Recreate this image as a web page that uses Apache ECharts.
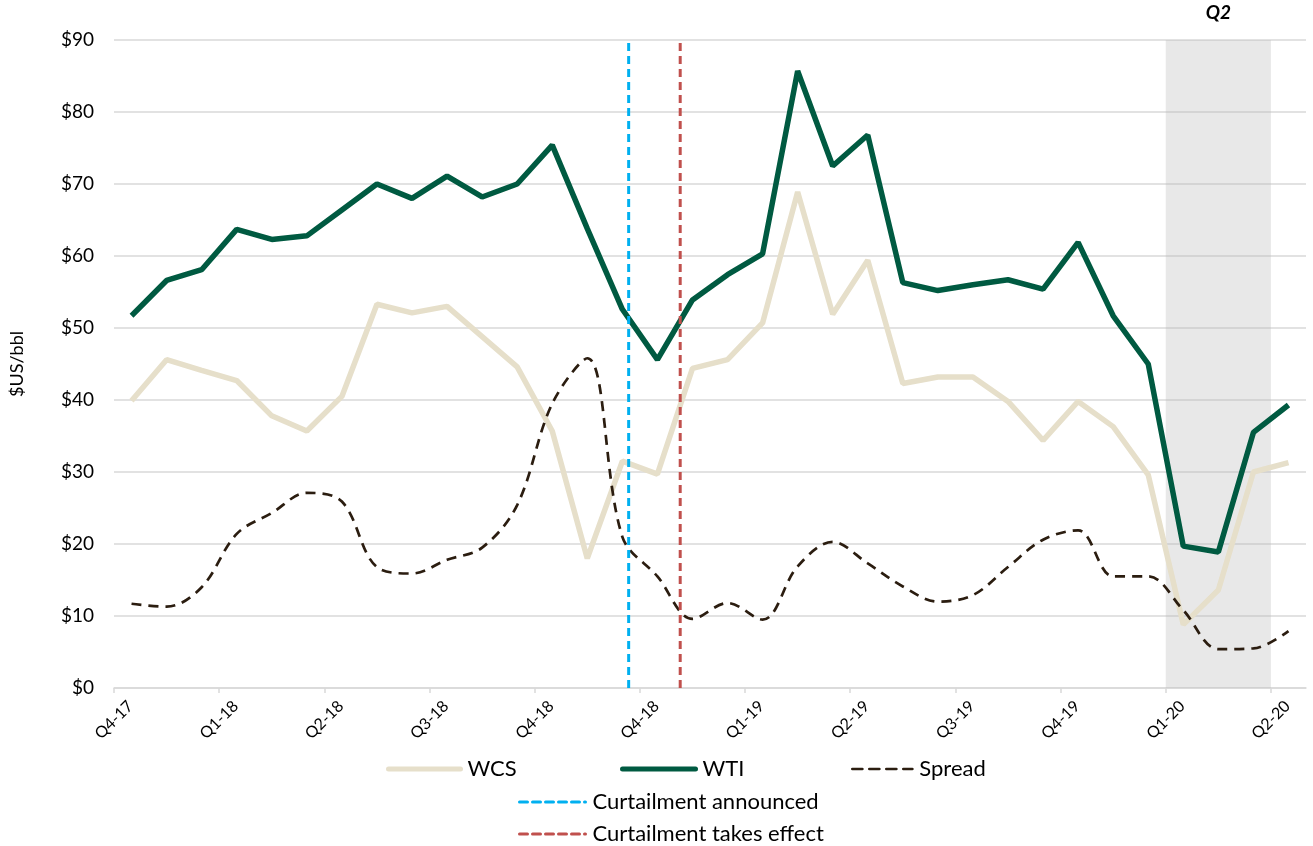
<!DOCTYPE html>
<html>
<head>
<meta charset="utf-8">
<script src="https://cdn.jsdelivr.net/npm/echarts@6/dist/echarts.min.js"></script>
<style>
html,body{margin:0;padding:0;background:#fff;}
#chart{width:1313px;height:846px;}
</style>
</head>
<body>
<div id="chart"></div>
<script>
// Tick labels every 3 periods
var tickLabels = ['Q4-17','Q1-18','Q2-18','Q3-18','Q4-18','Q4-18','Q1-19','Q2-19','Q3-19','Q4-19','Q1-20','Q2-20'];
var periodsPerLabel = 3;

var wcs = [39.9,45.6,44.1,42.7,37.8,35.7,40.5,53.3,52.1,53.0,48.8,44.6,35.7,18.0,31.5,29.7,44.4,45.6,50.7,68.9,51.9,59.4,42.3,43.2,43.2,39.8,34.4,39.8,36.3,29.6,8.8,13.6,30.0,31.3];
var wti = [51.7,56.6,58.1,63.7,62.3,62.8,66.4,70.0,68.0,71.1,68.2,70.0,75.4,63.8,52.6,45.6,53.9,57.4,60.3,85.7,72.5,76.8,56.3,55.2,56.0,56.7,55.4,61.9,51.7,45.0,19.7,18.9,35.5,39.3];
var spread = [11.7,11.3,14.0,21.4,24.3,27.1,25.9,16.8,15.9,17.8,19.5,25.4,39.5,45.8,21.0,15.5,9.6,11.8,9.5,16.9,20.3,17.3,14.1,12.0,12.9,16.8,20.6,21.9,15.5,15.5,10.8,5.4,5.5,7.9];

// event positions (in period units on x axis)
var curtailAnnounced = 14.68;
var curtailEffect = 16.15;
// shaded Q2 band (period units)
var q2Band = [30, 33];
var q2Label = 'Q2';

var yMin = 0, yMax = 90, yStep = 10;

function toXY(arr){ return arr.map(function(v,i){ return [i+0.5, v]; }); }
var nPeriods = wcs.length;
var tickValues = tickLabels.map(function(_,i){ return i*periodsPerLabel; });

var FONT = 'Lato';
var chart = echarts.init(document.getElementById('chart'));
var legendText = {fontFamily: FONT, fontSize: 22, color: '#000', padding: [0,0,0,2]};
function lg(name, left, top, w, lw){
  return {data: [name], left: left, top: top, itemWidth: w, itemHeight: 12, itemGap: 0, padding: 0,
    textStyle: legendText, itemStyle: {opacity: 0}, lineStyle: {width: lw, cap: 'round'}};
}
chart.setOption({
  animation: false,
  textStyle: {fontFamily: FONT},
  grid: {left: 113, right: 7, top: 40, bottom: 158},
  xAxis: {
    type: 'value', min: 0, max: nPeriods,
    axisLine: {show: true, lineStyle: {color: '#d9d9d9', width: 1.5}},
    axisTick: {show: true, length: 5, lineStyle: {color: '#d9d9d9', width: 1.5}, customValues: tickValues},
    splitLine: {show: false},
    axisLabel: {
      customValues: tickValues,
      rotate: 45, align: 'center', verticalAlign: 'middle',
      fontSize: 16, color: '#000', fontFamily: FONT, margin: 32,
      formatter: function(v){ var k = Math.round(v/periodsPerLabel); return tickLabels[k] || ''; }
    }
  },
  yAxis: {
    type: 'value', min: yMin, max: yMax, interval: yStep,
    name: '$US/bbl', nameLocation: 'middle', nameGap: 88, nameRotate: 90,
    nameTextStyle: {fontFamily: FONT, fontSize: 18, color: '#000'},
    axisLine: {show: false}, axisTick: {show: false},
    splitLine: {lineStyle: {color: '#d9d9d9', width: 1.5}},
    axisLabel: {formatter: function(v){ return '$' + v; }, fontSize: 19, color: '#000', fontFamily: FONT, margin: 20}
  },
  legend: [
    lg('WCS', 386, 758, 72, 5),
    lg('WTI', 620, 758, 73, 5),
    lg('Spread', 851, 758, 60, 2.7),
    lg('Curtailment announced', 518, 791, 66, 3),
    lg('Curtailment takes effect', 518, 823, 66, 3)
  ],
  series: [
    {name: 'WCS', type: 'line', data: toXY(wcs), symbol: 'none', z: 2,
     lineStyle: {color: '#e6dfca', width: 5.5}, itemStyle: {color: '#e6dfca'}},
    {name: 'WTI', type: 'line', data: toXY(wti), symbol: 'none', z: 3,
     lineStyle: {color: '#005a41', width: 5.5}, itemStyle: {color: '#005a41'}},
    {name: 'Spread', type: 'line', data: toXY(spread), symbol: 'none', smooth: 0.35, z: 4,
     lineStyle: {color: '#2b1d10', width: 2.7, type: [10, 7]}, itemStyle: {color: '#2b1d10'}},
    {name: 'Curtailment announced', type: 'line', symbol: 'none', z: 5,
     data: [[curtailAnnounced, yMin], [curtailAnnounced, yMax]],
     lineStyle: {color: '#00b0f0', width: 3, type: [8, 5]}, itemStyle: {color: '#00b0f0'}},
    {name: 'Curtailment takes effect', type: 'line', symbol: 'none', z: 5,
     data: [[curtailEffect, yMin], [curtailEffect, yMax]],
     lineStyle: {color: '#c0504d', width: 3, type: [8, 5]}, itemStyle: {color: '#c0504d'}},
    {name: 'shade', type: 'line', data: [], z: 10, silent: true,
     markArea: {
       silent: true,
       itemStyle: {color: 'rgba(187,187,187,0.34)'},
       label: {show: true, position: 'top', distance: 18, fontFamily: FONT, fontSize: 19, fontWeight: 'bold', fontStyle: 'italic', color: '#000'},
       data: [[{xAxis: q2Band[0], yAxis: yMax, name: q2Label}, {xAxis: q2Band[1], yAxis: yMin}]]
     }}
  ]
});
</script>
</body>
</html>
